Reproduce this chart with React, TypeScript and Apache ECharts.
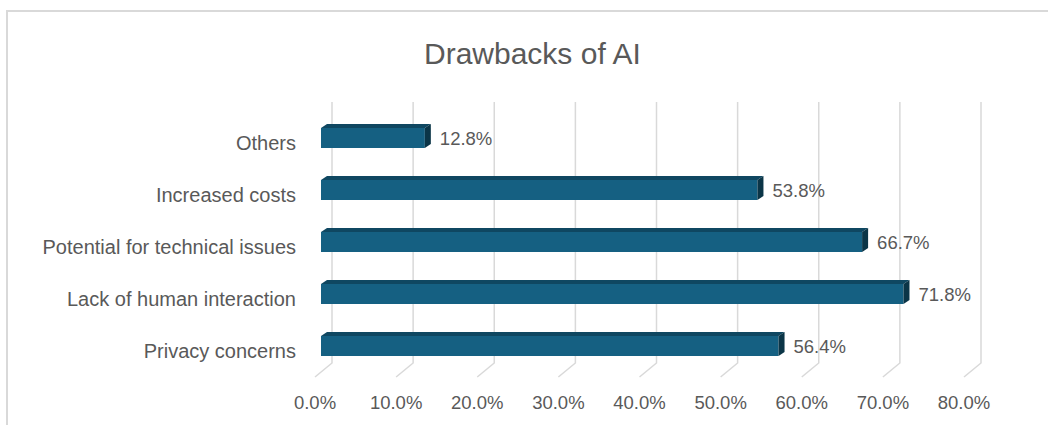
import React, { useEffect, useRef } from "react";
import * as echarts from "echarts";

const titleText = "Drawbacks of AI";
const categories = [
  "Privacy concerns",
  "Lack of human interaction",
  "Potential for technical issues",
  "Increased costs",
  "Others",
];
const values = [56.4, 71.8, 66.7, 53.8, 12.8];
const xTicks = [0, 10, 20, 30, 40, 50, 60, 70, 80];

const FONT = "'Liberation Sans', Arial, sans-serif";
const TEXT = "#595959";
const FRONT = "#156082";
const TOP = "#0F4761";
const SIDE = "#0B3547";
const GRID = "#D9D9D9";

const fmt = (v: number) => v.toFixed(1) + "%";

export default function App() {
  const ref = useRef<HTMLDivElement>(null);
  useEffect(() => {
    if (!ref.current) return;
    const chart = echarts.init(ref.current, undefined, { renderer: "svg" });
    const option: any = {
      animation: false,
      backgroundColor: "#ffffff",
      textStyle: { fontFamily: FONT },
      title: {
        text: titleText,
        left: 419,
        top: 33,
        textStyle: { fontFamily: FONT, fontSize: 30, fontWeight: "normal", color: TEXT },
      },
      graphic: [
        {
          type: "rect",
          shape: { x: 7, y: 11, width: 1200, height: 600 },
          style: { fill: "none", stroke: GRID, lineWidth: 2 },
          silent: true,
          z: -10,
        },
      ],
      grid: [
        { left: 321, width: 649, top: 112, height: 260 },
        { left: 315, width: 649, top: 102, height: 281 },
        { left: 321, width: 649, top: 117, height: 260 },
      ],
      xAxis: [
        {
          gridIndex: 0,
          type: "value",
          min: 0,
          max: 80,
          interval: 10,
          show: false,
        },
        {
          gridIndex: 1,
          type: "value",
          min: 0,
          max: 80,
          interval: 10,
          axisLine: { show: false },
          axisTick: { show: false },
          splitLine: { show: false },
          axisLabel: {
            margin: 10,
            fontFamily: FONT,
            fontSize: 18.5,
            color: TEXT,
            formatter: (v: number) => fmt(v),
          },
        },
        {
          gridIndex: 2,
          type: "value",
          min: 0,
          max: 80,
          interval: 10,
          show: false,
        },
      ],
      yAxis: [
        {
          gridIndex: 0,
          type: "category",
          data: categories,
          axisLine: { show: false },
          axisTick: { show: false },
          splitLine: { show: false },
          axisLabel: { show: false },
        },
        { gridIndex: 1, type: "value", show: false },
        {
          gridIndex: 2,
          type: "category",
          data: categories,
          axisLine: { show: false },
          axisTick: { show: false },
          splitLine: { show: false },
          axisLabel: {
            margin: 25,
            fontFamily: FONT,
            fontSize: 20,
            color: TEXT,
          },
        },
      ],
      series: [
        {
          type: "custom",
          xAxisIndex: 0,
          yAxisIndex: 0,
          silent: true,
          z: 0,
          data: xTicks.map((v) => [v, 0]),
          encode: { x: 0, y: 1 },
          renderItem: (params: any, api: any) => {
            const x = api.coord([api.value(0), 0])[0];
            const cs = params.coordSys;
            const top = cs.y - 10;
            const back = cs.y + cs.height - 9;
            return {
              type: "polyline",
              shape: {
                points: [
                  [x + 11, top],
                  [x + 11, back],
                  [x - 6, back + 14],
                ],
              },
              style: { stroke: GRID, lineWidth: 1.5, fill: "none" },
            };
          },
        },
        {
          type: "bar",
          xAxisIndex: 0,
          yAxisIndex: 0,
          data: values,
          barWidth: 20,
          z: 3,
          itemStyle: { color: FRONT },
          label: {
            show: true,
            position: "right",
            distance: 15,
            fontFamily: FONT,
            fontSize: 18.5,
            color: TEXT,
            formatter: (p: any) => fmt(p.value),
          },
        },
        {
          type: "custom",
          xAxisIndex: 0,
          yAxisIndex: 0,
          silent: true,
          z: 4,
          data: values.map((v, i) => [v, i]),
          encode: { x: 0, y: 1 },
          renderItem: (params: any, api: any) => {
            const v = api.value(0);
            const c = api.value(1);
            const p0 = api.coord([0, c]);
            const p1 = api.coord([v, c]);
            const ty = p0[1] - 10;
            const by = p0[1] + 10;
            const dx = 6;
            const dy = -4;
            return {
              type: "group",
              children: [
                {
                  type: "polygon",
                  shape: {
                    points: [
                      [p0[0], ty],
                      [p1[0], ty],
                      [p1[0] + dx, ty + dy],
                      [p0[0] + dx, ty + dy],
                    ],
                  },
                  style: { fill: TOP },
                },
                {
                  type: "polygon",
                  shape: {
                    points: [
                      [p1[0], ty],
                      [p1[0] + dx, ty + dy],
                      [p1[0] + dx, by + dy],
                      [p1[0], by],
                    ],
                  },
                  style: { fill: SIDE },
                },
              ],
            };
          },
        },
      ],
    };
    chart.setOption(option);
    return () => chart.dispose();
  }, []);
  return (
    <div
      ref={ref}
      style={{ position: "fixed", left: 0, top: 0, width: 1048, height: 425, background: "#fff" }}
    />
  );
}
